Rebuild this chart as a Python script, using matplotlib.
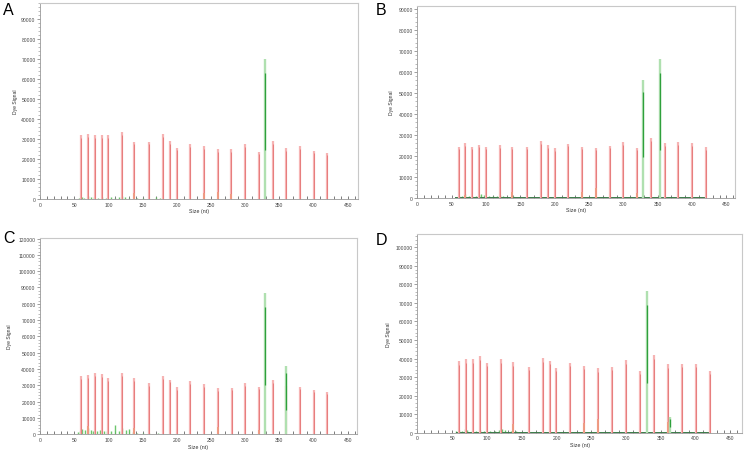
import matplotlib
matplotlib.use("Agg")
import matplotlib.pyplot as plt
from matplotlib.ticker import MultipleLocator, FixedLocator

# ---- data ----
ladder_sizes = [60, 70, 80, 90, 100, 120, 138, 160, 180, 190, 200, 220,
                240, 260, 280, 300, 320, 340, 360, 380, 400, 420]

red_A = [32000, 32500, 32000, 32200, 32200, 33500, 28700, 28700, 32500, 29200, 25700, 27400,
         26500, 25000, 25000, 27400, 23700, 29000, 25400, 26400, 24200, 22900]
red_B = [24400, 26300, 24400, 25400, 24400, 25200, 24400, 24400, 27100, 25200, 23800, 25900,
         24400, 24000, 24900, 26800, 24000, 28700, 26200, 26700, 26200, 24300]
red_C = [35900, 36300, 37800, 36900, 34500, 37600, 34300, 31200, 35700, 33500, 28800, 32400,
         30800, 28200, 28600, 31200, 29000, 33100, 29600, 29000, 27300, 25900]
red_D = [38700, 39700, 39600, 41400, 37600, 39700, 37900, 35600, 40300, 38800, 34900, 37600,
         36000, 34700, 35400, 39000, 33500, 41700, 37000, 37200, 37200, 33500]

# minor red (stutter) peaks
stut_A_x = [138, 240, 260, 280]
stut_A_y = [3200, 3000, 3500, 2500]
stut_B_x = [70, 138, 240, 260, 320]
stut_B_y = [1500, 2700, 3000, 5000, 2500]
stut_C_x = [70, 138, 260, 320]
stut_C_y = [5200, 4000, 4500, 2500]
stut_D_x = [138, 240, 260, 360]
stut_D_y = [4500, 5000, 7500, 6000]

# main green peaks
green_A_x = [329]
green_A_y = [70100]
green_B_x = [329, 353]
green_B_y = [56300, 66000]
green_C_x = [329, 359]
green_C_y = [86500, 42000]
green_D_x = [330, 363]
green_D_y = [76600, 8500]

# low green background peaks
gnoise_A_x = [57, 61, 65, 70, 74, 79, 85, 91, 97, 104, 110, 116, 120, 124, 130, 142, 150, 170, 175]
gnoise_A_y = [500, 900, 700, 1500, 800, 900, 600, 900, 700, 900, 600, 1000, 1400, 1100, 700, 500, 700, 900, 600]
gnoise_B_x = [56, 60, 65, 70, 75, 80, 86, 90, 93, 97, 104, 110, 116, 120, 125, 132, 140, 148, 160, 175, 190]
gnoise_B_y = [600, 900, 800, 1800, 900, 1000, 900, 1500, 2100, 1400, 900, 800, 900, 1500, 1000, 700, 800, 600, 500, 600, 400]
gnoise_C_x = [56, 59, 62, 66, 70, 74, 78, 83, 88, 93, 98, 104, 110, 115, 120, 125, 130, 136, 142, 150, 160, 172]
gnoise_C_y = [1500, 2200, 3000, 2500, 4000, 2500, 2000, 1800, 2500, 1800, 2200, 1800, 5500, 2200, 3600, 2500, 3000, 1500, 1000, 900, 800, 1000]
gnoise_D_x = [56, 60, 64, 68, 72, 78, 84, 90, 96, 104, 112, 118, 122, 126, 134, 142, 155, 170]
gnoise_D_y = [700, 1200, 1000, 2000, 1300, 900, 1000, 1200, 800, 900, 1000, 1600, 1800, 1200, 800, 700, 600, 500]

panel_letters = ["A", "B", "C", "D"]
y_max_ticks = [90000, 90000, 120000, 100000]
y_lims = [98000, 91600, 120500, 107000]
x_lims = [465, 462, 463, 467]

# axes boxes in pixels: left, top, right, bottom
boxes = [(40, 4, 358, 200), (417.3, 6.7, 734.7, 199),
         (40, 238.7, 356.7, 435.3), (417.3, 235.3, 742.3, 433.7)]
letter_pos = [(3, 3), (376, 3), (3, 231), (376, 233)]
ylabel_off = [25, 26, 30, 29]

W, H = 746, 452
fig = plt.figure(figsize=(W / 100, H / 100), dpi=100)
plt.rcParams['font.family'] = ['Liberation Sans', 'DejaVu Sans']

reds = [red_A, red_B, red_C, red_D]
stx = [stut_A_x, stut_B_x, stut_C_x, stut_D_x]
sty = [stut_A_y, stut_B_y, stut_C_y, stut_D_y]
gx = [green_A_x, green_B_x, green_C_x, green_D_x]
gy = [green_A_y, green_B_y, green_C_y, green_D_y]
nx = [gnoise_A_x, gnoise_B_x, gnoise_C_x, gnoise_D_x]
ny = [gnoise_A_y, gnoise_B_y, gnoise_C_y, gnoise_D_y]

for i in range(4):
    l, t, r, b = boxes[i]
    ax = fig.add_axes([l / W, 1 - b / H, (r - l) / W, (b - t) / H])
    ax.set_xlim(0, x_lims[i])
    ax.set_ylim(0, y_lims[i])

    # green background
    ax.vlines(nx[i], 0, ny[i], color='#5cc05c', lw=1.0, alpha=0.9, zorder=2)
    ax.plot([55, 420], [250, 250], color='#3a7a48', lw=0.7, zorder=2)
    # red ladder
    ax.vlines(ladder_sizes, 0, reds[i], color='#f6b4b4', lw=1.6, zorder=3)
    ax.vlines(ladder_sizes, 0, [v * 0.95 for v in reds[i]], color='#e57474', lw=0.6, zorder=3)
    ax.vlines(stx[i], 0, sty[i], color='#ef9a80', lw=1.3, zorder=3)
    # green peaks
    ax.vlines(gx[i], 0, gy[i], color='#b0e0b0', lw=1.7, zorder=4)
    ax.vlines(gx[i], [v * 0.35 for v in gy[i]], [v * 0.9 for v in gy[i]],
              color='#2ea03c', lw=0.9, zorder=4)

    # ticks
    ax.yaxis.set_major_locator(FixedLocator(list(range(0, y_max_ticks[i] + 1, 10000))))
    ax.yaxis.set_minor_locator(MultipleLocator(2000))
    ax.xaxis.set_major_locator(FixedLocator(list(range(0, 451, 50))))
    ax.xaxis.set_minor_locator(MultipleLocator(10))
    ax.tick_params(axis='y', which='major', direction='out', length=2, width=0.5,
                   labelsize=3.6, pad=1.2, colors='#777777', labelcolor='#444444')
    ax.tick_params(axis='y', which='minor', direction='out', length=1.2, width=0.4,
                   colors='#888888')
    ax.tick_params(axis='x', which='major', direction='in', length=2, width=0.6,
                   labelsize=3.6, pad=2.0, colors='#666666', labelcolor='#444444')
    ax.tick_params(axis='x', which='minor', direction='in', length=2, width=0.6,
                   colors='#666666')
    for s in ['top', 'right']:
        ax.spines[s].set_color('#c8c8c8')
        ax.spines[s].set_linewidth(0.8)
    for s in ['left', 'bottom']:
        ax.spines[s].set_color('#999999')
        ax.spines[s].set_linewidth(0.6)

    ax.text(-ylabel_off[i] / (r - l), 0.5, 'Dye Signal', rotation=90, fontsize=3.6,
            color='#333333', ha='center', va='center', transform=ax.transAxes)
    ax.text(0.5, -12 / (b - t), 'Size (nt)', fontsize=3.8, color='#333333',
            ha='center', va='center', transform=ax.transAxes)

    lx, ly = letter_pos[i]
    fig.text(lx / W, 1 - ly / H, panel_letters[i], fontsize=11.5, color='black',
             ha='left', va='top')

fig.savefig('out.png', dpi=100)
